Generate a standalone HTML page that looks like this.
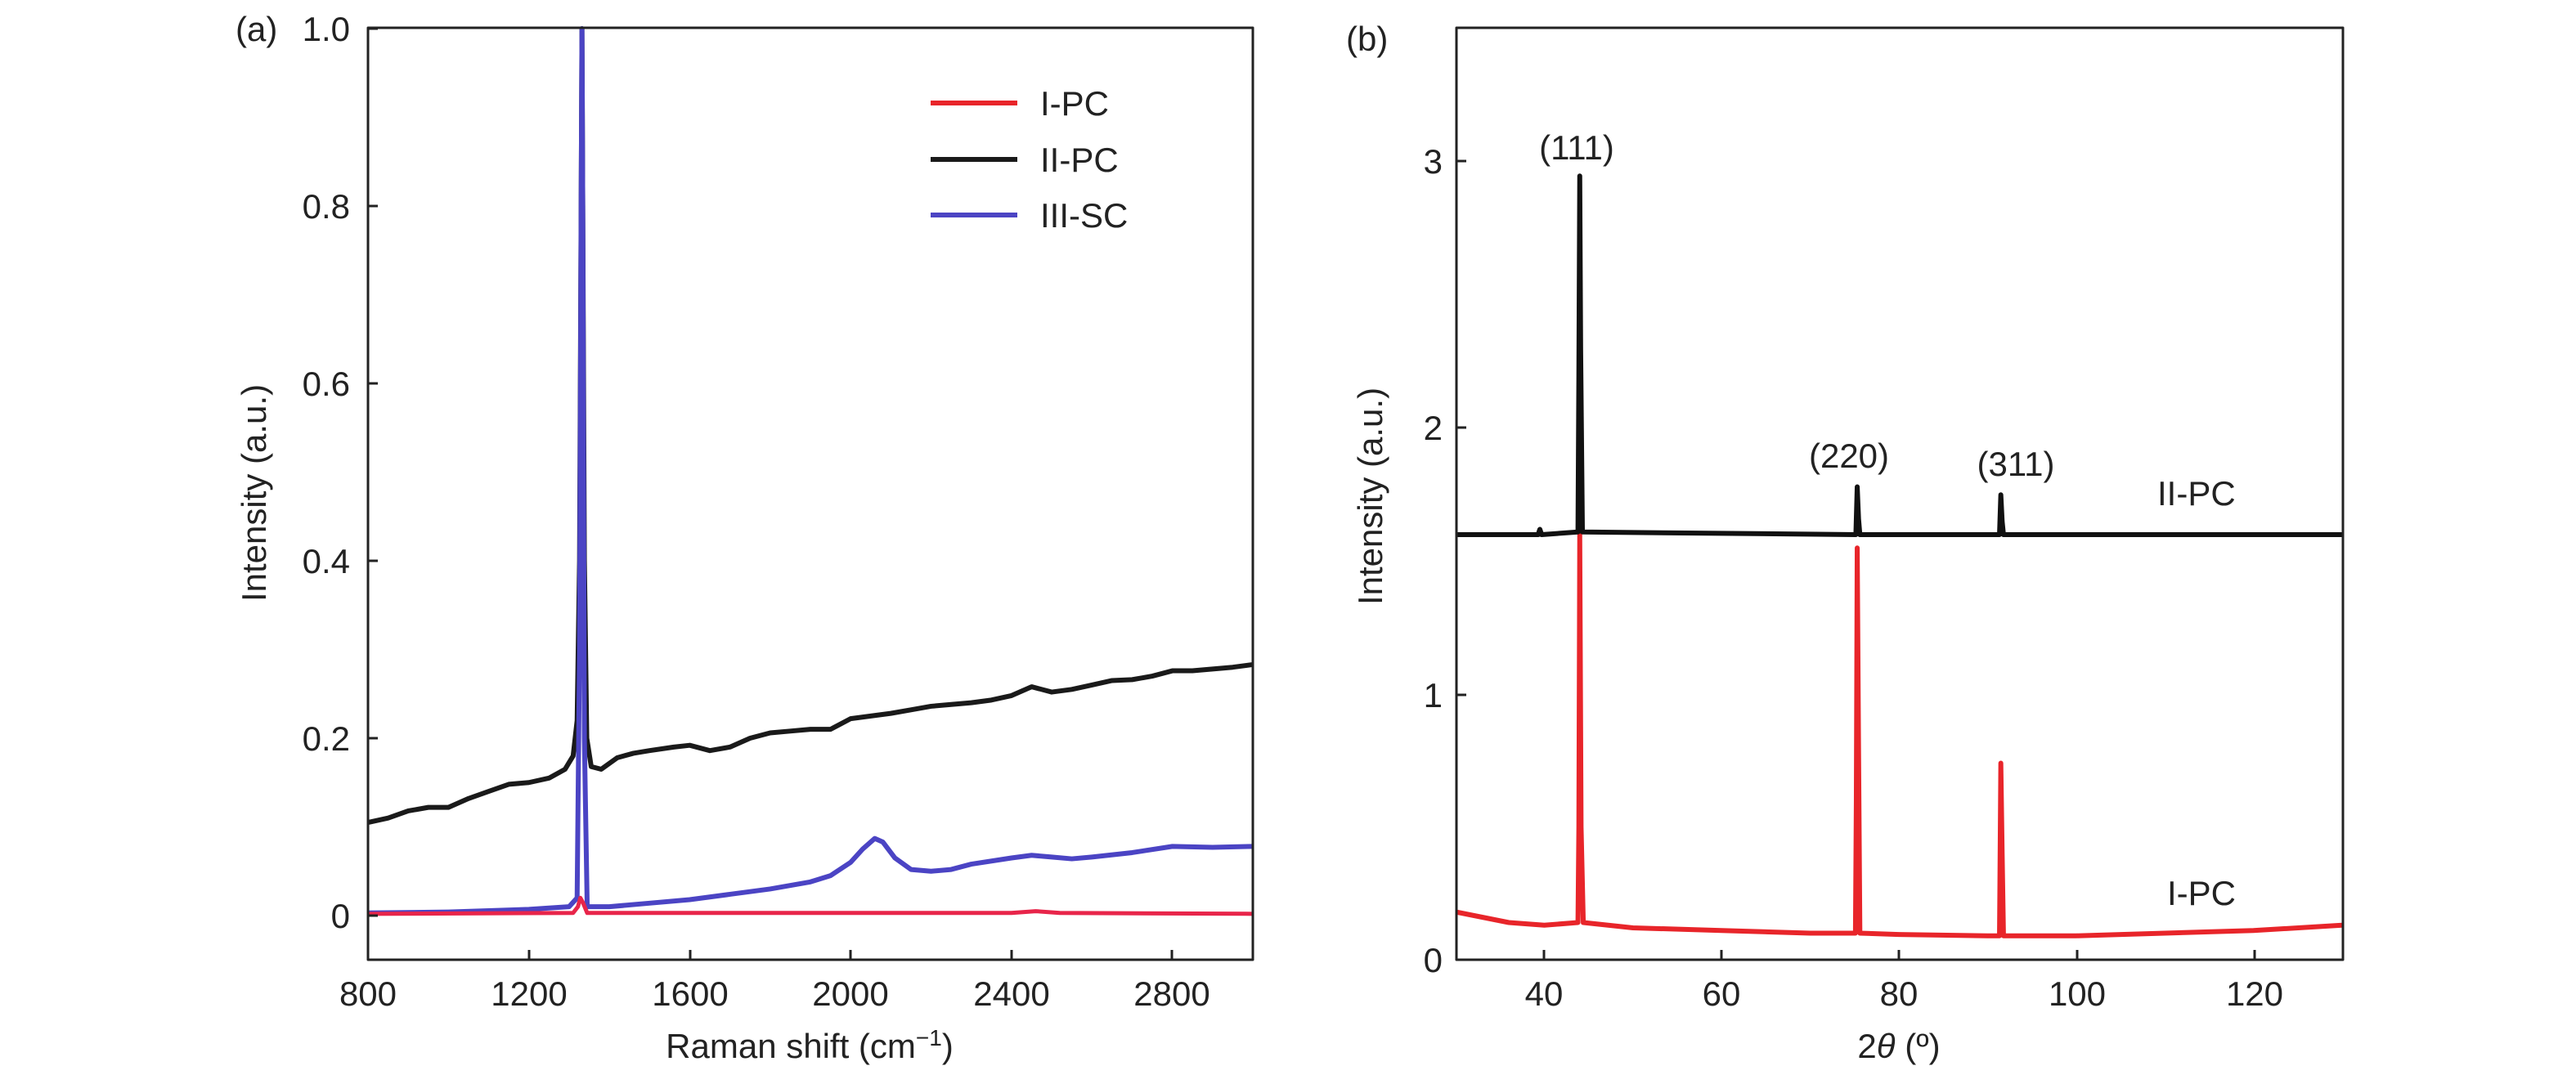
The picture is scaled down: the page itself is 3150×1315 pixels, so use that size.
<!DOCTYPE html>
<html><head><meta charset="utf-8"><style>
html,body{margin:0;padding:0;background:#fff}
svg{display:block}
text{font-family:"Liberation Sans",sans-serif;fill:#222}
</style></head><body>
<svg width="3150" height="1315" viewBox="0 0 3150 1315" xmlns="http://www.w3.org/2000/svg">
<rect width="3150" height="1315" fill="#fff"/>
<!-- Panel a -->
<g fill="none" stroke-linejoin="round">
<g transform="matrix(0.4918 0 0 -1085 56.56 1120)">
<polyline vector-effect="non-scaling-stroke" stroke="#1a1a1a" stroke-width="6" points="800,.105 850,.11 900,.118 950,.122 1000,.122 1050,.132 1100,.14 1150,.148 1200,.15 1250,.155 1290,.165 1310,.18 1320,.22 1326,.4 1330,.8 1332,1.0 1334,.8 1338,.4 1344,.2 1355,.168 1380,.165 1420,.178 1460,.183 1500,.186 1560,.19 1600,.192 1650,.186 1700,.19 1750,.2 1800,.206 1850,.208 1900,.21 1950,.21 2000,.222 2050,.225 2100,.228 2150,.232 2200,.236 2250,.238 2300,.24 2350,.243 2400,.248 2450,.258 2500,.252 2550,.255 2600,.26 2650,.265 2700,.266 2750,.27 2800,.276 2850,.276 2900,.278 2950,.28 3000,.283"/>
<polyline vector-effect="non-scaling-stroke" stroke="#4b44c4" stroke-width="6" points="800,.003 1000,.004 1200,.007 1300,.01 1320,.02 1326,.3 1330,.8 1332,1.0 1334,.8 1338,.2 1345,.01 1400,.01 1500,.014 1600,.018 1700,.024 1800,.03 1900,.038 1950,.045 2000,.06 2030,.075 2060,.087 2080,.083 2110,.065 2150,.052 2200,.05 2250,.052 2300,.058 2400,.065 2450,.068 2500,.066 2550,.064 2600,.066 2700,.071 2800,.078 2900,.077 3000,.078"/>
<polyline vector-effect="non-scaling-stroke" stroke="#e8254a" stroke-width="5" points="800,.002 1310,.003 1322,.01 1328,.02 1334,.015 1345,.003 2400,.003 2460,.005 2520,.003 3000,.002"/>
</g>
<rect x="450" y="34" width="1082" height="1140" stroke="#222" stroke-width="3"/>
<path stroke="#222" stroke-width="3" d="M450 1120h12M450 903h12M450 686h12M450 469h12M450 252h12M450 35h12M647 1174v-12M844 1174v-12M1040 1174v-12M1237 1174v-12M1433 1174v-12"/>
<line x1="1138" y1="126" x2="1244" y2="126" stroke="#e8252a" stroke-width="6"/>
<line x1="1138" y1="195" x2="1244" y2="195" stroke="#1a1a1a" stroke-width="6"/>
<line x1="1138" y1="263" x2="1244" y2="263" stroke="#4b44c4" stroke-width="6"/>
</g>
<g font-size="42">
<text x="1272" y="141">I-PC</text><text x="1272" y="210">II-PC</text><text x="1272" y="278">III-SC</text>
<text x="288" y="50">(a)</text>
<g text-anchor="end"><text x="428" y="1135">0</text><text x="428" y="918">0.2</text><text x="428" y="701">0.4</text><text x="428" y="484">0.6</text><text x="428" y="267">0.8</text><text x="428" y="50">1.0</text></g>
<g text-anchor="middle"><text x="450" y="1230">800</text><text x="647" y="1230">1200</text><text x="844" y="1230">1600</text><text x="1040" y="1230">2000</text><text x="1237" y="1230">2400</text><text x="1433" y="1230">2800</text>
<text x="990" y="1294">Raman shift (cm<tspan font-size="28" dy="-15">−1</tspan><tspan dy="15">)</tspan></text>
<text transform="translate(325,603) rotate(-90)">Intensity (a.u.)</text></g>
</g>
<!-- Panel b -->
<g fill="none" stroke-linejoin="round">
<g transform="matrix(10.84 0 0 -325 1454.8 1174)">
<polyline vector-effect="non-scaling-stroke" stroke="#e8252a" stroke-width="6" points="30,.18 33,.16 36,.14 40,.13 43.8,.14 43.9,.5 44,1.6 44.15,.5 44.4,.14 50,.12 60,.11 70,.10 75.1,.10 75.2,.6 75.3,1.55 75.45,.8 75.6,.1 80,.095 90,.09 91.35,.09 91.4,.3 91.5,.74 91.65,.4 91.8,.09 100,.09 110,.1 120,.11 130,.13"/>
<polyline vector-effect="non-scaling-stroke" stroke="#111" stroke-width="6" points="30,1.6 39.3,1.6 39.5,1.62 39.7,1.6 43.8,1.61 43.9,2.2 44,2.95 44.1,2.3 44.3,1.61 75.15,1.6 75.3,1.78 75.45,1.66 75.6,1.6 91.35,1.6 91.5,1.75 91.65,1.65 91.8,1.6 130,1.6"/>
</g>
<rect x="1781" y="34" width="1084" height="1140" stroke="#222" stroke-width="3"/>
<path stroke="#222" stroke-width="3" d="M1781 850h12M1781 523h12M1781 197h12M1888 1174v-12M2105 1174v-12M2322 1174v-12M2540 1174v-12M2757 1174v-12"/>
</g>
<g font-size="42">
<text x="1646" y="62">(b)</text>
<g text-anchor="end"><text x="1764" y="1189">0</text><text x="1764" y="865">1</text><text x="1764" y="538">2</text><text x="1764" y="212">3</text></g>
<g text-anchor="middle"><text x="1888" y="1230">40</text><text x="2105" y="1230">60</text><text x="2322" y="1230">80</text><text x="2540" y="1230">100</text><text x="2757" y="1230">120</text>
<text x="2322" y="1294">2<tspan font-style="italic">θ</tspan> (º)</text>
<text transform="translate(1690,607) rotate(-90)">Intensity (a.u.)</text>
<text x="1928" y="195">(111)</text><text x="2261" y="572">(220)</text><text x="2465" y="582">(311)</text></g>
<text x="2638" y="618">II-PC</text><text x="2650" y="1107">I-PC</text>
</g>
</svg>
</body></html>
